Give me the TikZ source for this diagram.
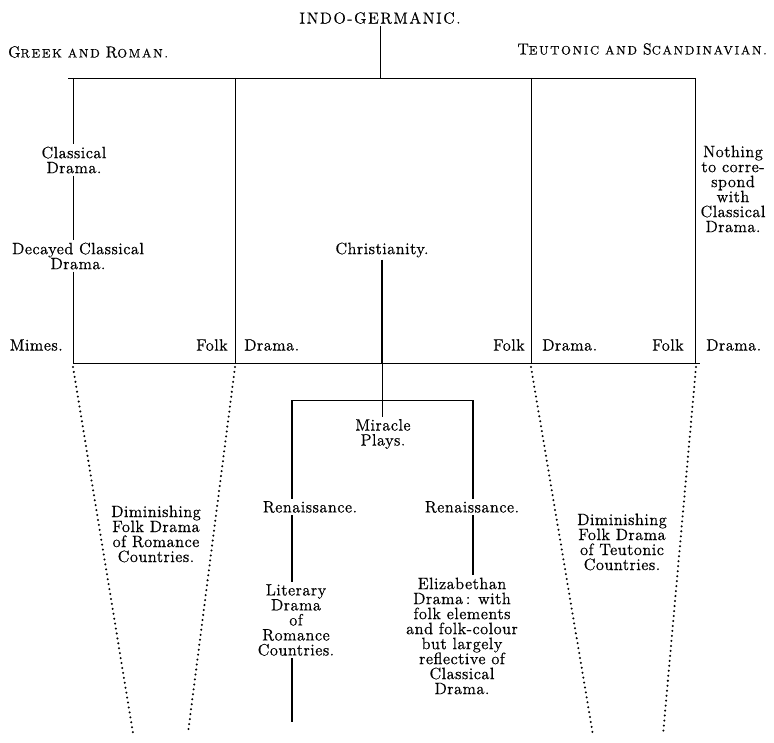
\documentclass[tikz,border=0pt]{standalone}
\usepackage{fontspec}
\setmainfont{Latin Modern Roman}[LetterSpace=3,FakeBold=0.6]
\newcommand{\smc}[1]{{\fontsize{9.2}{10}\selectfont #1}}
\begin{document}
\begin{tikzpicture}[x=0.75pt,y=-0.75pt,
  lbl/.style={font=\fontsize{12.3}{11.25}\selectfont, align=center, inner sep=1.5pt},
  hdr/.style={font=\fontsize{12}{14}\selectfont\addfontfeature{LetterSpace=14}, inner sep=0pt},
  ttl/.style={font=\fontsize{12}{14}\selectfont\addfontfeature{LetterSpace=10}, inner sep=1.5pt},
  ln/.style={line width=0.7pt},
  thk/.style={line width=1.2pt},
  dotline/.style={line width=1.7pt, dash pattern=on 0pt off 3.75pt, line cap=round}]
\useasboundingbox (0,0) rectangle (774,742);
% headings
\node[ttl] (indo) at (380,18) {INDO-GERMANIC.};
\node[hdr, anchor=west] (greek) at (8,52) {G\smc{REEK AND }R\smc{OMAN.}};
\node[hdr, anchor=east] (teut) at (767,49) {T\smc{EUTONIC AND }S\smc{CANDINAVIAN.}};
% top bar
\coordinate (tb) at (380,78);
\coordinate (tbL) at (68,78);
\coordinate (tbR) at (695,78);
\draw[ln] (indo.south) -- (tb);
\draw[ln] (tbL) -- (tbR);
\coordinate (v1) at (73,78);
\coordinate (v2) at (235,78);
\coordinate (v3) at (531,78);
\coordinate (v4) at (695,78);
% bottom bar
\coordinate (bbL) at (73,363);
\coordinate (bbR) at (700,363);
\draw[ln] (bbL) -- (bbR);
% left column
\node[lbl] (cls) at (74,160) {Classical\\Drama.};
\node[lbl] (dec) at (78,256) {Decayed Classical\\Drama.};
\draw[ln] (v1) -- (v1 |- cls.north);
\draw[ln] (v1 |- cls.south) -- (v1 |- dec.north);
\draw[ln] (v1 |- dec.south) -- (bbL);
\draw[ln] (v2) -- (v2 |- bbL);
\draw[ln] (v3) -- (v3 |- bbL);
\draw[ln] (v4) -- (v4 |- bbL);
% row labels
\node[lbl, anchor=east] (mimes) at (65,345) {Mimes.};
\node[lbl, anchor=east] (folk1) at (230,345) {Folk};
\node[lbl, anchor=west] (dr1) at (242,345) {Drama.};
\node[lbl, anchor=east] (folk2) at (527,345) {Folk};
\node[lbl, anchor=west] (dr2) at (540,345) {Drama.};
\node[lbl, anchor=east] (folk3) at (686,345) {Folk};
\node[lbl, anchor=west] (dr3) at (704,345) {Drama.};
\node[lbl] (noth) at (733,189) {Nothing\\to corre-\\spond\\with\\Classical\\Drama.};
% christianity
\node[lbl] (chr) at (382,250) {Christianity.};
\coordinate (mb) at (382,400);
\draw[thk] (chr.south) -- (chr.south |- bbL);
\draw[ln] (chr.south |- bbL) -- (mb);
\node[lbl] (mir) at (383,434) {Miracle\\Plays.};
\draw[ln] (mb) -- (mb |- mir.north);
\coordinate (mbL) at (292,400);
\coordinate (mbR) at (473,400);
\draw[ln] (mbL) -- (mbR);
% left branch
\node[lbl] (ren1) at (310,507) {Renaissance.};
\node[lbl] (lit) at (296,620) {Literary\\Drama\\of\\Romance\\Countries.};
\coordinate (lend) at (292,722);
\draw[thk] (mbL) -- (mbL |- ren1.north);
\draw[thk] (mbL |- ren1.south) -- (mbL |- lit.north);
\draw[thk] (mbL |- lit.south) -- (lend);
% right branch
\node[lbl] (ren2) at (472,507) {Renaissance.};
\node[lbl] (eliz) at (462,636) {Elizabethan\\Drama\,: with\\folk elements\\and folk-colour\\but largely\\reflective of\\Classical\\Drama.};
\draw[thk] (mbR) -- (mbR |- ren2.north);
\draw[thk] (mbR |- ren2.south) -- (mbR |- eliz.north);
% dotted funnels
\coordinate (d1a) at (73,367);   \coordinate (d1b) at (133,733);
\coordinate (d2a) at (235,367);  \coordinate (d2b) at (188,733);
\coordinate (d3a) at (531,367);  \coordinate (d3b) at (593,735);
\coordinate (d4a) at (696,367);  \coordinate (d4b) at (663,735);
\draw[dotline] (d1a) -- (d1b);
\draw[dotline] (d2a) -- (d2b);
\draw[dotline] (d3a) -- (d3b);
\draw[dotline] (d4a) -- (d4b);
\node[lbl] (dim1) at (156,534) {Diminishing\\Folk Drama\\of Romance\\Countries.};
\node[lbl] (dim2) at (622,542) {Diminishing\\Folk Drama\\of Teutonic\\Countries.};
\end{tikzpicture}
\end{document}
